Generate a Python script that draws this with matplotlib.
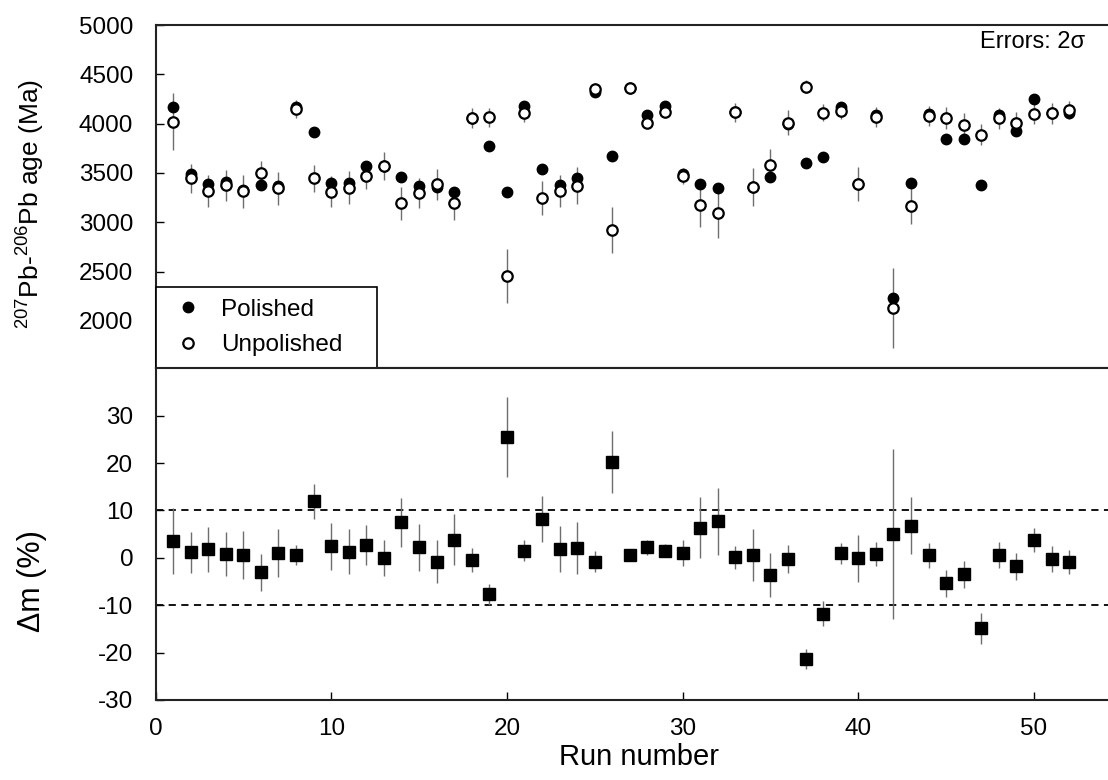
import matplotlib
matplotlib.use('Agg')
import matplotlib.pyplot as plt
from matplotlib.lines import Line2D
import numpy as np

plt.rcParams['font.family'] = ['Liberation Sans', 'DejaVu Sans']
plt.rcParams['mathtext.default'] = 'regular'
plt.rcParams['axes.unicode_minus'] = False

# --- data ---
run = np.arange(1, 53)

age_polished = [4172, 3486, 3388, 3405, 3330, 3381, 3371, 4165, 3918, 3395,
                3395, 3574, 3570, 3455, 3371, 3361, 3310, 4060, 3773, 3310,
                4179, 3536, 3378, 3452, 4317, 3675, 4365, 4087, 4179, 3486,
                3384, 3351, 4121, 3361, 3455, 4000, 3597, 3665, 4165, 3390,
                4087, 2235, 3395, 4094, 3841, 3847, 3374, 4087, 3929, 4250,
                4104, 4104]

age_unpolished = [4020, 3445, 3320, 3374, 3315, 3496, 3344, 4145, 3445, 3310,
                  3350, 3469, 3570, 3192, 3300, 3384, 3192, 4060, 4064, 2458,
                  4108, 3249, 3317, 3371, 4348, 2921, 4365, 4003, 4121, 3469,
                  3172, 3090, 4114, 3357, 3580, 4010, 4375, 4111, 4131, 3388,
                  4064, 2127, 3165, 4077, 4054, 3983, 3888, 4054, 4010, 4098,
                  4104, 4138]

age_err = [290, 150, 160, 160, 165, 130, 165, 90, 140, 155,
           165, 135, 140, 170, 150, 160, 170, 100, 95, 275,
           90, 170, 165, 185, 60, 235, 40, 50, 50, 80,
           215, 250, 100, 190, 160, 125, 65, 85, 80, 170,
           100, 405, 180, 100, 110, 125, 105, 105, 105, 100,
           110, 95]

dm = [3.6, 1.2, 1.8, 0.8, 0.6, -3.0, 1.0, 0.6, 11.9, 2.4,
      1.3, 2.7, -0.1, 7.5, 2.2, -0.8, 3.8, -0.4, -7.7, 25.5,
      1.5, 8.2, 1.9, 2.0, -0.8, 20.2, 0.5, 2.2, 1.5, 1.0,
      6.4, 7.7, 0.1, 0.6, -3.6, -0.2, -21.3, -11.8, 1.0, -0.1,
      0.8, 5.0, 6.8, 0.5, -5.4, -3.5, -14.9, 0.6, -1.8, 3.8,
      -0.2, -0.9]

dm_err = [7.0, 4.3, 4.8, 4.7, 5.1, 3.9, 5.0, 2.2, 3.6, 4.9,
          4.8, 4.2, 3.8, 5.2, 4.9, 4.6, 5.4, 2.5, 2.2, 8.4,
          2.2, 4.9, 4.9, 5.5, 2.2, 6.5, 1.0, 1.5, 1.4, 2.7,
          6.4, 7.0, 2.4, 5.4, 4.6, 2.9, 2.1, 2.6, 2.2, 4.9,
          2.6, 18.0, 6.0, 2.7, 2.8, 2.9, 3.3, 2.7, 2.9, 2.5,
          2.8, 2.5]

fig = plt.figure(figsize=(11.08, 7.8), dpi=100)
left = 155.5 / 1108
width = 966.35 / 1108
ax1 = fig.add_axes([left, 1 - 368.3 / 780, width, (368.3 - 25) / 780])
ax2 = fig.add_axes([left, 1 - 700 / 780, width, (700 - 368.3) / 780])

err_color = '#6e6e6e'

# Top panel: ages
ax1.errorbar(run, age_unpolished, yerr=age_err, fmt='none', ecolor=err_color,
             elinewidth=1.0, capsize=0, zorder=1)
ax1.plot(run, age_polished, 'o', color='black', ms=7.5, zorder=2)
ax1.plot(run, age_unpolished, 'o', mfc='white', mec='black', mew=1.6, ms=7.5, zorder=3)

ax1.set_xlim(0, 55)
ax1.set_ylim(1520, 5000)
ax1.set_yticks(np.arange(2000, 5001, 500))
ax1.tick_params(axis='x', length=0, labelbottom=False)
ax1.tick_params(axis='y', direction='in', length=6, width=1, labelsize=17.5, pad=16)
ax1.set_ylabel(r'$^{207}$Pb-$^{206}$Pb age (Ma)', fontsize=19)
ax1.yaxis.set_label_coords(-0.112, 0.48)
ax1.text(0.962, 0.95, 'Errors: 2σ', transform=ax1.transAxes, ha='right', va='center',
         fontsize=17)

handles = [Line2D([], [], ls='none', marker='o', color='black', ms=7.5),
           Line2D([], [], ls='none', marker='o', mfc='white', mec='black', mew=1.6, ms=7.5)]
leg = ax1.legend(handles, ['Polished', 'Unpolished'], loc='lower left',
                 bbox_to_anchor=(0, 0, 0.229, 0.25), mode='expand', borderaxespad=0,
                 fontsize=17.5, frameon=True, fancybox=False, framealpha=1,
                 edgecolor='black', borderpad=0.5, labelspacing=0.55,
                 handlelength=1.7, handletextpad=0.5, numpoints=1)
leg.get_frame().set_linewidth(1.2)

# Bottom panel: mass bias difference
ax2.axhline(10, color='black', ls=(0, (4, 3)), lw=1.3, zorder=0)
ax2.axhline(-10, color='black', ls=(0, (4, 3)), lw=1.3, zorder=0)
ax2.errorbar(run, dm, yerr=dm_err, fmt='none', ecolor=err_color,
             elinewidth=1.0, capsize=0, zorder=1)
ax2.plot(run, dm, 's', color='black', ms=8, zorder=2)

ax2.set_xlim(0, 55)
ax2.set_ylim(-30, 40)
ax2.set_yticks(np.arange(-30, 31, 10))
ax2.set_xticks(np.arange(0, 51, 10))
ax2.tick_params(axis='both', direction='in', length=6, width=1, labelsize=17.5)
ax2.tick_params(axis='y', pad=16)
ax2.tick_params(axis='x', pad=13)
ax2.set_ylabel('Δm (%)', fontsize=22)
ax2.yaxis.set_label_coords(-0.112, 0.36)
ax2.set_xlabel('Run number', fontsize=21, labelpad=2)

for ax in (ax1, ax2):
    for s in ax.spines.values():
        s.set_linewidth(1.5)
        s.set_color('#222222')

fig.savefig('out.png', dpi=100)
